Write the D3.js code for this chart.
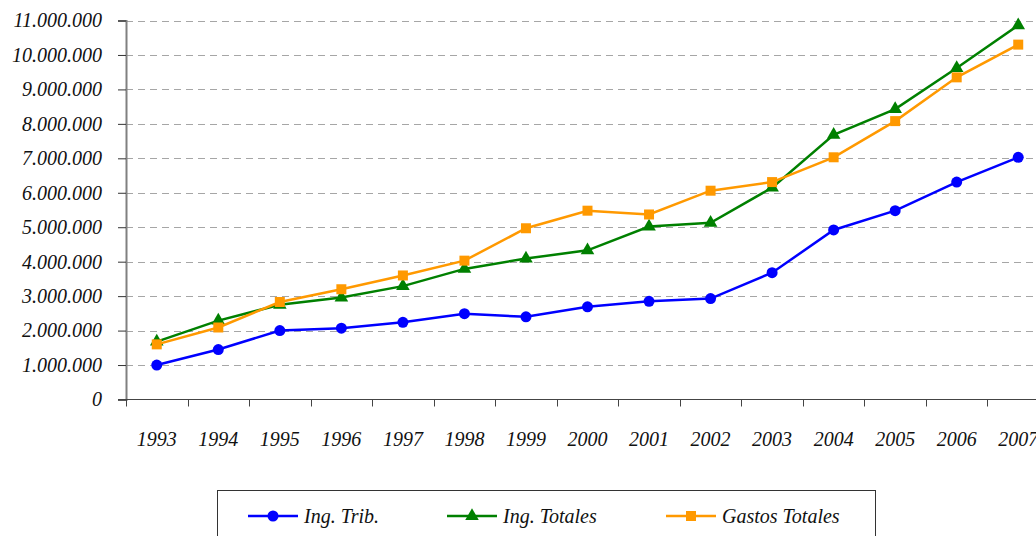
<!DOCTYPE html>
<html>
<head>
<meta charset="utf-8">
<script src="https://cdn.jsdelivr.net/npm/d3@7"></script>
<style>
  html, body { margin: 0; padding: 0; background: #fff; }
  svg { display: block; overflow: hidden; }
</style>
</head>
<body>
<svg id="chart" width="1036" height="536"></svg>
<script>
const years = ["1993","1994","1995","1996","1997","1998","1999","2000","2001","2002","2003","2004","2005","2006","2007"];
const ingTrib    = [1000000,1450000,2000000,2070000,2240000,2490000,2400000,2690000,2850000,2930000,3680000,4920000,5480000,6310000,7030000];
const ingTotales = [1680000,2290000,2750000,2960000,3290000,3790000,4090000,4330000,5020000,5130000,6150000,7680000,8430000,9620000,10860000];
const gastosTot  = [1600000,2090000,2830000,3200000,3600000,4030000,4970000,5480000,5370000,6060000,6310000,7030000,8080000,9350000,10300000];
const yTicks = [0,1000000,2000000,3000000,4000000,5000000,6000000,7000000,8000000,9000000,10000000,11000000];
const seriesNames = ["Ing. Trib.","Ing. Totales","Gastos Totales"];

const FONT = "Liberation Serif";
const svg = d3.select("#chart");
const pLeft = 126, pRight = 1049, pTop = 20.5, pBottom = 399.5;

const x = d3.scaleBand().domain(years).range([pLeft, pRight]).padding(0);
const y = d3.scaleLinear().domain([0, 11000000]).range([pBottom, pTop]);

const loc = d3.formatLocale({decimal: ",", thousands: ".", grouping: [3], currency: ["", ""]});
const fmt = loc.format(",");

// gridlines
svg.append("g").selectAll("line")
  .data(yTicks.filter(d => d > 0))
  .join("line")
  .attr("x1", pLeft).attr("x2", pRight)
  .attr("y1", d => Math.round(y(d)) + 0.5).attr("y2", d => Math.round(y(d)) + 0.5)
  .attr("stroke", "#a6a6a6").attr("stroke-width", 1)
  .attr("stroke-dasharray", "7,5");

// y axis
const yAxis = svg.append("g").attr("transform", `translate(${pLeft},0)`)
  .call(d3.axisLeft(y).tickValues(yTicks).tickFormat(fmt).tickSize(8).tickPadding(16));
yAxis.attr("font-family", FONT).attr("font-size", 20).attr("font-style", "italic");
yAxis.select(".domain").attr("stroke", "#808080").attr("stroke-width", 2);
yAxis.selectAll(".tick line").attr("stroke", "#333");
yAxis.selectAll("text").attr("fill", "#111");

// x axis
const xAxis = svg.append("g").attr("transform", `translate(0,${pBottom})`)
  .attr("font-family", FONT).attr("font-size", 20).attr("font-style", "italic");
xAxis.append("line").attr("x1", pLeft - 8).attr("x2", pRight).attr("y1", 0).attr("y2", 0)
  .attr("stroke", "#444").attr("stroke-width", 1);
const bounds = years.map(d => x(d)).concat([pRight]);
xAxis.selectAll("line.tk").data(bounds).join("line").attr("class", "tk")
  .attr("x1", d => Math.round(d) + 0.5).attr("x2", d => Math.round(d) + 0.5)
  .attr("y1", 0).attr("y2", 7).attr("stroke", "#444");
xAxis.selectAll("text").data(years).join("text")
  .attr("x", d => x(d) + x.bandwidth() / 2).attr("y", 46)
  .attr("text-anchor", "middle").attr("fill", "#111")
  .text(d => d);

const cx = d => x(d) + x.bandwidth() / 2;
const line = d3.line().x((d, i) => cx(years[i])).y(d => y(d));
const symSize = s => s === d3.symbolTriangle ? 80 : (s === d3.symbolSquare ? 100 : 95);

function drawSeries(vals, color, shape) {
  const g = svg.append("g");
  g.append("path").datum(vals).attr("d", line)
    .attr("fill", "none").attr("stroke", color).attr("stroke-width", 2.5);
  g.selectAll("path.m").data(vals).join("path").attr("class", "m")
    .attr("transform", (d, i) => `translate(${cx(years[i])},${y(d)})`)
    .attr("d", d3.symbol().type(shape).size(symSize(shape))())
    .attr("fill", color);
}

drawSeries(ingTrib, "#0000ff", d3.symbolCircle);
drawSeries(ingTotales, "#008000", d3.symbolTriangle);
drawSeries(gastosTot, "#ff9900", d3.symbolSquare);

// legend
const lg = svg.append("g").attr("font-family", FONT).attr("font-size", 20).attr("font-style", "italic");
lg.append("rect").attr("x", 217.5).attr("y", 490.5).attr("width", 658).attr("height", 60)
  .attr("fill", "#fff").attr("stroke", "#333").attr("stroke-width", 1);
const legendItems = [
  {name: seriesNames[0], color: "#0000ff", shape: d3.symbolCircle, x0: 248},
  {name: seriesNames[1], color: "#008000", shape: d3.symbolTriangle, x0: 447},
  {name: seriesNames[2], color: "#ff9900", shape: d3.symbolSquare, x0: 666}
];
legendItems.forEach(it => {
  lg.append("line").attr("x1", it.x0).attr("x2", it.x0 + 50).attr("y1", 516).attr("y2", 516)
    .attr("stroke", it.color).attr("stroke-width", 2.5);
  lg.append("path").attr("transform", `translate(${it.x0 + 25},516)`)
    .attr("d", d3.symbol().type(it.shape).size(symSize(it.shape))())
    .attr("fill", it.color);
  lg.append("text").attr("x", it.x0 + 56).attr("y", 523).attr("fill", "#111").text(it.name);
});
</script>
</body>
</html>
